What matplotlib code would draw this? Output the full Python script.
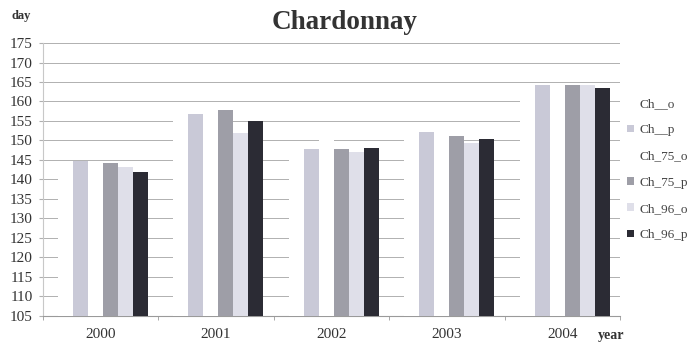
import numpy as np
import matplotlib.pyplot as plt
from matplotlib.patches import Patch

# Flowering dates (day of year) per simulation run
years = ['2000', '2001', '2002', '2003', '2004']
ch_o = [144.0, 157.0, 148.5, 151.5, 164.0]
ch_p = [144.6, 156.8, 147.8, 152.2, 164.2]
ch_75_o = [144.0, 157.5, 150.5, 151.0, 164.0]
ch_75_p = [144.1, 157.8, 147.9, 151.1, 164.2]
ch_96_o = [143.1, 151.8, 147.1, 149.3, 164.2]
ch_96_p = [142.0, 155.0, 148.1, 150.4, 163.5]

series = [
    ('Ch__o', ch_o, '#ffffff'),
    ('Ch__p', ch_p, '#c9c9d7'),
    ('Ch_75_o', ch_75_o, '#ffffff'),
    ('Ch_75_p', ch_75_p, '#9e9ea7'),
    ('Ch_96_o', ch_96_o, '#dfdfe9'),
    ('Ch_96_p', ch_96_p, '#2b2b34'),
]

plt.rcParams['font.family'] = ['Liberation Serif', 'DejaVu Serif']

fig = plt.figure(figsize=(6.89, 3.47), dpi=100)
ax = fig.add_axes([0.062, 0.09, 0.838, 0.786])

x = np.arange(len(years))
width = 0.13
base = 105

for i, (name, vals, color) in enumerate(series):
    heights = np.array(vals) - base
    ax.bar(x + (i - 2.5) * width + 0.02, heights, width, bottom=base,
           color=color, edgecolor='none', zorder=3, label=name)

ax.set_ylim(105, 175)
ax.set_xlim(-0.5, len(years) - 0.5)
ax.set_yticks(np.arange(105, 176, 5))
ax.set_xticks(x)
ax.set_xticklabels(years)
ax.set_xticks(np.arange(-0.5, len(years), 1.0), minor=True)

ax.yaxis.grid(True, color='#b0b0b0', linewidth=0.7, zorder=0)
ax.set_axisbelow(True)

for side in ['top', 'right']:
    ax.spines[side].set_visible(False)
ax.spines['left'].set_color('#c8c8c8')
ax.spines['bottom'].set_color('#9a9a9a')
ax.spines['left'].set_linewidth(0.8)
ax.spines['bottom'].set_linewidth(0.8)

ax.tick_params(axis='y', length=3, color='#b0b0b0', labelsize=11,
               labelcolor='#333333', pad=4)
ax.tick_params(axis='x', which='major', length=0, labelsize=11,
               labelcolor='#333333', pad=9)
ax.tick_params(axis='x', which='minor', length=3, color='#9a9a9a')

fig.text(0.5, 0.935, 'Chardonnay', ha='center', va='center',
         fontsize=19.5, fontweight='bold', color='#333333')
fig.text(0.017, 0.955, 'day', ha='left', va='center',
         fontsize=9, fontweight='bold', color='#333333')
fig.text(0.867, 0.033, 'year', ha='left', va='center',
         fontsize=10, fontweight='bold', color='#333333')

handles = [Patch(facecolor=c, edgecolor='none', label=n) for n, _, c in series]
fig.legend(handles=handles, loc='upper left', bbox_to_anchor=(0.893, 0.752),
           frameon=False, fontsize=9.5, handlelength=0.55, handleheight=0.55,
           handletextpad=0.4, labelspacing=1.08, labelcolor='#444444')

fig.savefig('out.png', dpi=100)
